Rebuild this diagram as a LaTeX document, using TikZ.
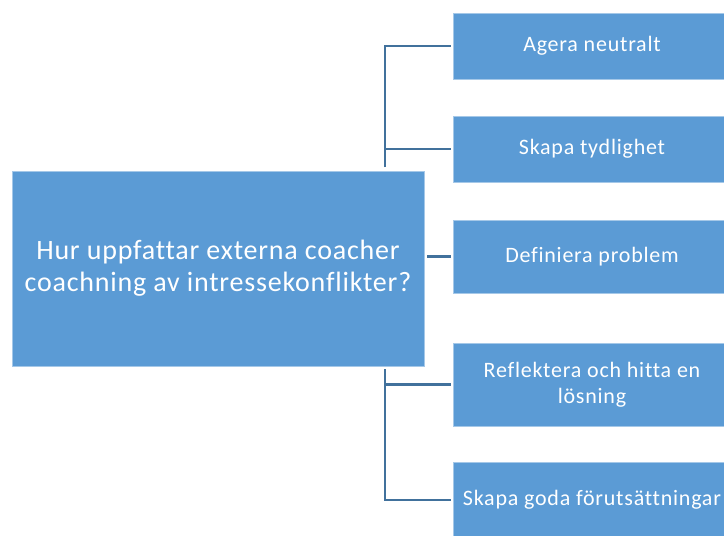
\documentclass[tikz,border=0pt]{standalone}
\usepackage{fontspec}
\setmainfont{Carlito}[LetterSpace=3.5,Ligatures=NoCommon]
\newfontfamily\questionfont{Carlito}[LetterSpace=2.8,Ligatures=NoCommon]
\definecolor{boxblue}{HTML}{5B9BD5}
\definecolor{linkblue}{HTML}{41719C}
\begin{document}
\begin{tikzpicture}[x=1pt,y=-1pt,
        box/.style={fill=boxblue,draw=boxblue!55!white,line width=0.7pt,text=white,align=center,inner sep=0pt},
        item/.style={box,minimum width=278pt,font=\fontsize{22}{26}\selectfont},
        conn/.style={draw=linkblue,line width=2.6pt,shorten >=2pt}]
        \useasboundingbox (0,0) rectangle (724,536);

        \node [box,minimum width=412pt,minimum height=195pt,font=\questionfont\fontsize{28}{32}\selectfont] (question) at (218,268.5)
            {Hur uppfattar externa coacher\\coachning av intressekonflikter?};

        \node [item,minimum height=66pt] (neutral) at (592,46) {Agera neutralt};
        \node [item,minimum height=66pt] (clarity) at (592,149) {Skapa tydlighet};
        \node [item,minimum height=73pt] (problem) at (592,256.5) {Definiera problem};
        \node [item,minimum height=83pt] (solution) at (592,384.5) {Reflektera och hitta en\\lösning};
        \node [item,minimum height=76pt] (conditions) at (592,500) {Skapa goda förutsättningar};

        \coordinate (topjoint) at (385,167);
        \coordinate (botjoint) at (385,369);
        \draw [conn] (topjoint) |- (neutral.west);
        \draw [conn] (topjoint) |- (clarity.west);
        \draw [conn,shorten <=3pt] (question.east |- problem.west) -- (problem.west);
        \draw [conn] (botjoint) |- (solution.west);
        \draw [conn] (botjoint) |- (conditions.west);
      \end{tikzpicture}
\end{document}
